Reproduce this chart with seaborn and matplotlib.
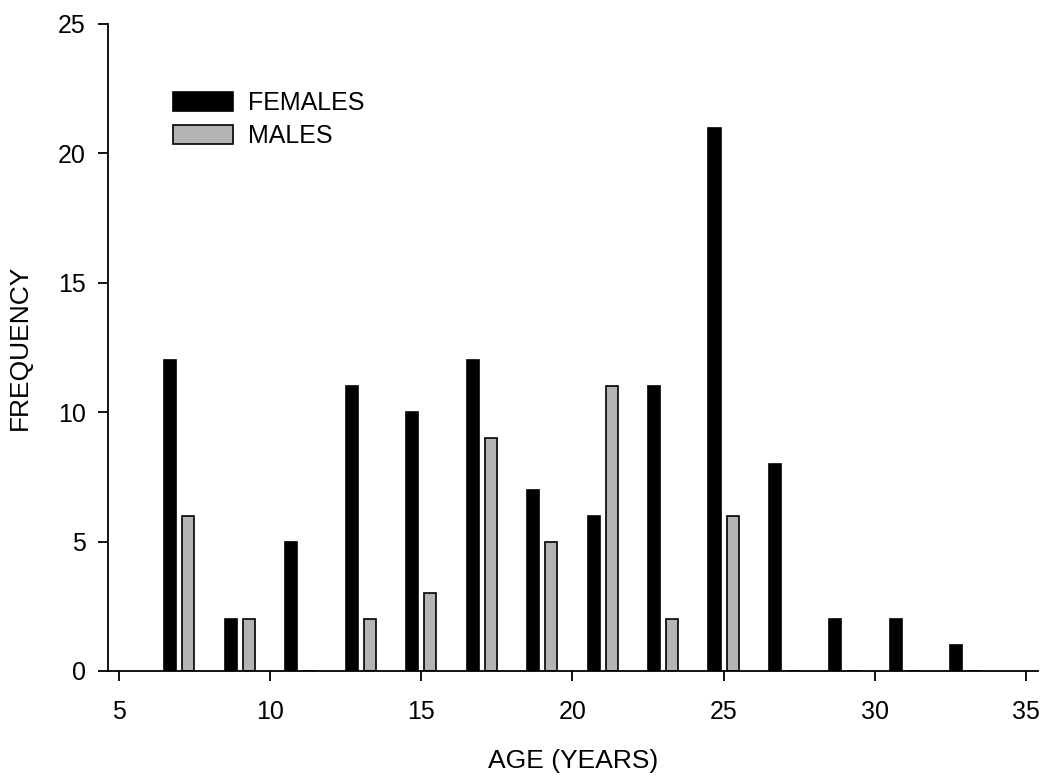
import numpy as np
import pandas as pd
import seaborn as sns
import matplotlib
matplotlib.use("Agg")
import matplotlib.pyplot as plt

# age classes (years) and counts
ages = [7, 9, 11, 13, 15, 17, 19, 21, 23, 25, 27, 29, 31, 33]
females = [12, 2, 5, 11, 10, 12, 7, 6, 11, 21, 8, 2, 2, 1]
males = [6, 2, 0, 2, 3, 9, 5, 11, 2, 6, 0, 0, 0, 0]

df = pd.DataFrame({
    "age": ages * 2,
    "sex": ["FEMALES"] * len(ages) + ["MALES"] * len(ages),
    "count": females + males,
})

sns.set_style("ticks")
plt.rcParams["font.family"] = ["Liberation Sans", "DejaVu Sans"]
plt.rcParams["text.color"] = "black"
plt.rcParams["axes.labelcolor"] = "black"
plt.rcParams["xtick.color"] = "black"
plt.rcParams["ytick.color"] = "black"

fig = plt.figure(figsize=(10.5, 7.83), dpi=100)
ax = fig.add_axes([108 / 1050, 1 - 671 / 783, (1038 - 108) / 1050, (671 - 24) / 783])

sns.barplot(data=df, x="age", y="count", hue="sex", hue_order=["FEMALES", "MALES"],
            palette={"FEMALES": "black", "MALES": "#b4b4b4"}, native_scale=True,
            width=0.6, gap=1 / 3, edgecolor="black", linewidth=1.2, ax=ax)

ax.set_xlim(4.64, 35.4)
ax.set_ylim(0, 25)
ax.set_xticks(np.arange(5, 36, 5))
ax.set_yticks(np.arange(0, 26, 5))
ax.set_xlabel("AGE (YEARS)", fontsize=19, labelpad=18)
ax.set_ylabel("FREQUENCY", fontsize=19, labelpad=19)
ax.tick_params(axis="both", labelsize=18, direction="out", width=1.3)
ax.tick_params(axis="x", length=7, pad=14)
ax.tick_params(axis="y", length=7, pad=9)
for s in ["top", "right"]:
    ax.spines[s].set_visible(False)
for s in ["left", "bottom"]:
    ax.spines[s].set_linewidth(1.3)
    ax.spines[s].set_color("black")

leg = ax.legend(loc="upper left", bbox_to_anchor=(173 / 1050, 1 - 91 / 783),
                bbox_transform=fig.transFigure, frameon=False, fontsize=18,
                handlelength=2.4, handleheight=0.8, handletextpad=0.6,
                labelspacing=0.35, borderpad=0, borderaxespad=0, title=None)

fig.savefig("out.png", dpi=100)
